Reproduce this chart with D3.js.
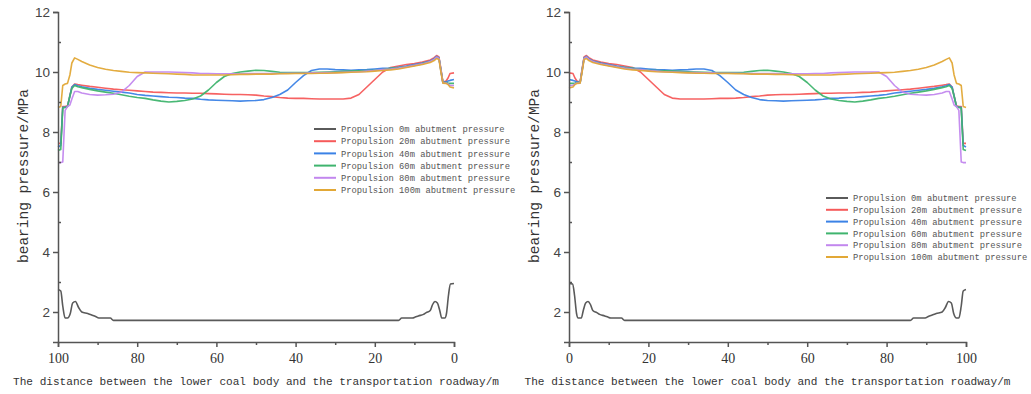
<!DOCTYPE html>
<html><head><meta charset="utf-8">
<script src="https://cdn.jsdelivr.net/npm/d3@7"></script>
<style>body{margin:0;background:#fff}svg{display:block}</style>
</head><body>
<svg id="c" width="1031" height="394"></svg>
<script>
// ---- data ----
const seriesNames = ["Propulsion 0m abutment pressure","Propulsion 20m abutment pressure","Propulsion 40m abutment pressure","Propulsion 60m abutment pressure","Propulsion 80m abutment pressure","Propulsion 100m abutment pressure"];
const seriesColors = ["#5a5a5a","#f65a5a","#3b82e6","#3fb46e","#c287ee","#e2a836"];
const xTicks = [0,20,40,60,80,100];
const yTicks = [2,4,6,8,10,12];

const grayX = [0,0.9,1.4,1.9,2.3,3.1,3.6,4.2,4.8,5.4,6.0,7.0,7.7,9.0,9.8,10.5,13.2,14.0,86.0,86.8,89.7,90.5,91.5,92.5,94.0,94.8,95.6,96.3,96.9,97.6,98.2,98.8,99.3,100];
const p0m = [2.95,2.93,2.55,1.95,1.8,1.8,2.05,2.3,2.35,2.25,2.05,1.98,1.92,1.87,1.83,1.8,1.8,1.72,1.72,1.8,1.8,1.85,1.9,1.95,2.0,2.15,2.35,2.3,1.95,1.8,1.8,2.2,2.7,2.75];

const distX = [0,1,1.5,2,2.8,3.3,3.8,4.4,5,6,8,10,12,14,16,18,20,22,24,26,28,30,32,34,36,38,40,42,44,46,48,50,52,54,56,58,60,62,64,66,68,70,72,74,76,78,80,82,84,86,88,90,92,94,95,95.8,96.5,97,97.6,98.2,98.8,99.3,100];
const p20m = [9.97,9.95,9.8,9.7,9.66,10.1,10.5,10.55,10.48,10.4,10.33,10.28,10.25,10.2,10.15,10.0,9.75,9.5,9.25,9.13,9.1,9.1,9.1,9.1,9.11,9.12,9.12,9.13,9.15,9.18,9.2,9.23,9.24,9.25,9.25,9.26,9.27,9.28,9.29,9.29,9.3,9.3,9.31,9.32,9.33,9.35,9.37,9.39,9.41,9.43,9.46,9.49,9.52,9.56,9.58,9.6,9.5,9.2,8.87,8.85,8.85,7.62,7.62];
const p40m = [9.75,9.72,9.7,9.67,9.65,10.05,10.47,10.52,10.44,10.37,10.3,10.25,10.2,10.16,10.13,10.12,10.1,10.08,10.07,10.06,10.07,10.08,10.1,10.1,10.05,9.88,9.65,9.4,9.25,9.15,9.08,9.05,9.04,9.03,9.04,9.05,9.06,9.07,9.09,9.12,9.13,9.15,9.16,9.18,9.2,9.22,9.25,9.3,9.33,9.36,9.39,9.42,9.46,9.51,9.54,9.58,9.5,9.2,8.85,8.83,8.82,7.55,7.5];
const p60m = [9.62,9.62,9.63,9.65,9.65,10.05,10.46,10.5,10.42,10.35,10.28,10.22,10.18,10.15,10.12,10.08,10.06,10.05,10.04,10.03,10.02,10.01,10.0,9.99,9.98,9.98,9.98,9.98,9.99,10.02,10.05,10.06,10.03,10.0,9.95,9.85,9.65,9.4,9.2,9.1,9.05,9.02,9.0,9.03,9.07,9.12,9.15,9.19,9.24,9.29,9.33,9.37,9.42,9.48,9.51,9.55,9.45,9.2,8.85,8.82,8.8,7.42,7.38];
const p80m = [9.55,9.55,9.6,9.63,9.64,10.05,10.45,10.5,10.42,10.35,10.27,10.22,10.17,10.13,10.1,10.08,10.05,10.03,10.01,10.0,9.99,9.98,9.98,9.97,9.97,9.96,9.96,9.96,9.95,9.95,9.95,9.95,9.95,9.94,9.94,9.94,9.94,9.95,9.95,9.97,9.98,9.99,10.0,10.0,10.0,10.0,9.85,9.55,9.33,9.26,9.24,9.23,9.25,9.3,9.35,9.35,9.1,8.9,8.85,8.72,7.0,6.98,6.98];
const p100m = [9.47,9.5,9.58,9.62,9.63,10.0,10.42,10.45,10.38,10.32,10.25,10.2,10.15,10.1,10.07,10.05,10.03,10.01,10.0,9.99,9.98,9.97,9.96,9.96,9.95,9.95,9.95,9.94,9.94,9.93,9.93,9.93,9.92,9.92,9.91,9.9,9.9,9.9,9.9,9.9,9.92,9.93,9.94,9.95,9.96,9.97,9.98,9.99,10.02,10.05,10.09,10.15,10.23,10.35,10.42,10.47,10.3,9.9,9.62,9.6,9.55,8.85,8.82];

// ---- drawing ----
const svg = d3.select("#c");
const colorSeries = [p20m,p40m,p60m,p80m,p100m];

function drawPanel(cfg){
  const g = svg.append("g");
  const x = d3.scaleLinear().domain(cfg.xDomain).range([cfg.x0, cfg.x1]);
  const y = d3.scaleLinear().domain([1,12]).range([342,12]);
  const axisColor = "#555";

  // lines
  const lineG = d3.line().x((d)=>x(d[0])).y(d=>y(d[1])).curve(d3.curveMonotoneX);
  g.append("path").datum(grayX.map((v,i)=>[v,p0m[i]]))
    .attr("d",lineG).attr("fill","none").attr("stroke",seriesColors[0]).attr("stroke-width",1.6);
  const lineC = d3.line().x(d=>x(d[0])).y(d=>y(d[1]));
  colorSeries.forEach((s,k)=>{
    g.append("path").datum(distX.map((v,i)=>[v,s[i]]))
      .attr("d",lineC).attr("fill","none").attr("stroke",seriesColors[k+1])
      .attr("stroke-width",1.6).attr("stroke-linejoin","round").attr("stroke-opacity",0.95);
  });

  // y axis
  const ya = g.append("g").attr("transform",`translate(${cfg.x0},0)`)
    .call(d3.axisLeft(y).tickValues(yTicks).tickSize(5).tickPadding(3).tickFormat(d3.format("d")));
  ya.select(".domain").attr("stroke",axisColor).attr("stroke-width",1.5);
  ya.selectAll(".tick line").attr("stroke",axisColor).attr("stroke-width",1.5);
  ya.selectAll(".tick text").attr("font-family","Liberation Sans, Arial, sans-serif")
    .attr("font-size",13.5).attr("fill","#444");
  g.append("g").attr("transform",`translate(${cfg.x0},0)`)
    .call(d3.axisRight(y).tickValues([3,5,7,9,11]).tickSize(3).tickFormat(""))
    .call(a=>{a.select(".domain").remove();a.selectAll(".tick line").attr("stroke",axisColor).attr("stroke-width",1.5);});

  // x axis
  const xa = g.append("g").attr("transform","translate(0,342)")
    .call(d3.axisBottom(x).tickValues(xTicks).tickSize(5).tickPadding(6).tickFormat(d3.format("d")));
  xa.select(".domain").attr("stroke",axisColor).attr("stroke-width",1.5);
  xa.selectAll(".tick line").attr("stroke",axisColor).attr("stroke-width",1.5);
  xa.selectAll(".tick text").attr("font-family","Liberation Serif, serif")
    .attr("font-size",14).attr("fill","#333");
  g.append("g").attr("transform","translate(0,342)")
    .call(d3.axisBottom(x).tickValues([10,30,50,70,90]).tickSize(3).tickFormat(""))
    .call(a=>{a.select(".domain").remove();a.selectAll(".tick line").attr("stroke",axisColor).attr("stroke-width",1.5);});

  // titles
  const xt = "The distance between the lower coal body and the transportation roadway/m";
  g.append("text").attr("x",(cfg.x0+cfg.x1)/2).attr("y",385).attr("text-anchor","middle")
    .attr("font-family","Liberation Mono, monospace").attr("font-size",11.1).attr("fill","#333")
    .text(xt);
  g.append("text").attr("transform",`translate(${cfg.yTitleX},176) rotate(-90)`).attr("text-anchor","middle")
    .attr("font-family","Liberation Mono, monospace").attr("font-size",14.5).attr("fill","#333")
    .text("bearing pressure/MPa");

  // legend
  const lg = g.append("g");
  seriesNames.forEach((n,i)=>{
    const yy = cfg.legY + i*cfg.legDy;
    lg.append("line").attr("x1",cfg.legX).attr("x2",cfg.legX+22).attr("y1",yy).attr("y2",yy)
      .attr("stroke",seriesColors[i]).attr("stroke-width",2);
    lg.append("text").attr("x",cfg.legX+27).attr("y",yy+3.2)
      .attr("font-family","Liberation Mono, monospace").attr("font-size",8.8).attr("fill","#555")
      .text(n);
  });
}

drawPanel({xDomain:[100,0], x0:58, x1:454, yTitleX:28, legX:314, legY:129, legDy:12.2});
drawPanel({xDomain:[0,100], x0:569, x1:966, yTitleX:539, legX:826, legY:198, legDy:11.8});
</script>
</body></html>
